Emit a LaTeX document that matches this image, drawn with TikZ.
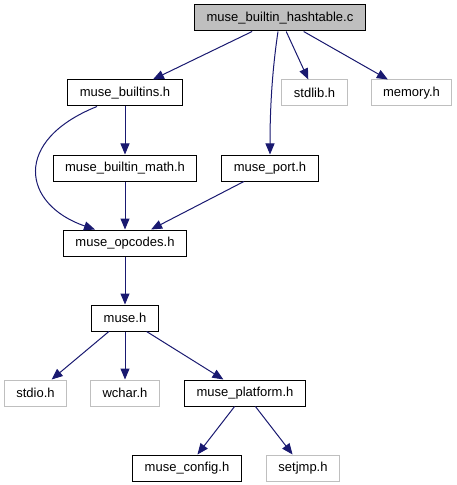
\documentclass[tikz,border=0pt]{standalone}
\usepackage{fontspec}
\setmainfont{Liberation Sans}
\usetikzlibrary{arrows.meta}
\definecolor{edgeblue}{HTML}{191970}
\definecolor{sysgray}{HTML}{BFBFBF}
\tikzstyle{file} = [rectangle, draw=black, fill=white, line width=1bp, minimum height=26bp, inner xsep=12bp, inner ysep=0pt, font=\fontsize{13bp}{15bp}\selectfont]
\tikzstyle{sysfile} = [file, draw=sysgray]
\tikzstyle{mainfile} = [file, fill=sysgray]
\tikzstyle{arrow}=[draw, edgeblue, line width=1bp, -{Triangle[length=11bp,width=9bp]}]

\begin{document}
\begin{tikzpicture}[x=1bp, y=-1bp, node distance=75bp]
        \useasboundingbox (0,0) rectangle (457,485);
        % Place nodes
        \node [file] (builtins) at (125,93) {muse\_builtins.h};
        \node [mainfile, above of=builtins, xshift=155bp] (hashtable) {muse\_builtin\_hashtable.c};
        \node [sysfile, right of=builtins, xshift=114.5bp] (stdlib) {stdlib.h};
        \node [sysfile, right of=stdlib, xshift=22bp] (memory) {memory.h};
        \node [file, below of=builtins] (math) {muse\_builtin\_math.h};
        \node [file, right of=math, xshift=70bp] (port) {muse\_port.h};
        \node [file, below of=math] (opcodes) {muse\_opcodes.h};
        \node [file, below of=opcodes] (muse) {muse.h};
        \node [sysfile, below of=muse] (wchar) {wchar.h};
        \node [sysfile, left of=wchar, xshift=-14.5bp] (stdio) {stdio.h};
        \node [file, right of=wchar, xshift=45bp] (platform) {muse\_platform.h};
        \node [file, below of=platform, xshift=-58bp] (config) {muse\_config.h};
        \node [sysfile, below of=platform, xshift=58bp] (setjmp) {setjmp.h};
        % Draw edges
        \path [arrow] (hashtable) -- (builtins);
        \path [arrow] ([xshift=-2bp]hashtable.south) .. controls +(-6,40) and +(0,-45) .. (port.north);
        \path [arrow] (hashtable) -- (stdlib);
        \path [arrow] (hashtable) -- (memory);
        \path [arrow] (builtins) -- (math);
        \path [arrow] ([xshift=-28bp]builtins.south) .. controls +(-85,34) and +(-73,-25) .. ([xshift=-30bp]opcodes.north);
        \path [arrow] (math) -- (opcodes);
        \path [arrow] (port) -- (opcodes);
        \path [arrow] (opcodes) -- (muse);
        \path [arrow] (muse) -- (stdio);
        \path [arrow] (muse) -- (wchar);
        \path [arrow] (muse) -- (platform);
        \path [arrow] (platform) -- (config);
        \path [arrow] (platform) -- (setjmp);
    \end{tikzpicture}
\end{document}
